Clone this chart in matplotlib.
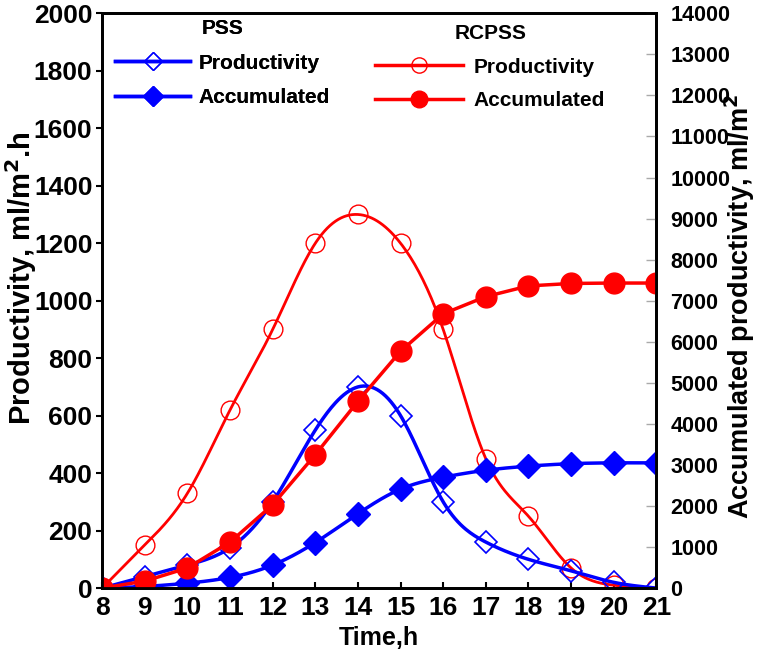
import numpy as np
import matplotlib
matplotlib.use("Agg")
from matplotlib import pyplot as plt
from matplotlib.lines import Line2D

plt.rcParams['font.family'] = ['Liberation Sans', 'DejaVu Sans']
plt.rcParams['font.weight'] = 'bold'

# data
hours = [8, 9, 10, 11, 12, 13, 14, 15, 16, 17, 18, 19, 20, 21]
pss_prod = [0, 40, 80, 140, 300, 550, 700, 600, 300, 160, 100, 60, 20, 0]
pss_acc = [0, 40, 120, 260, 560, 1110, 1810, 2410, 2700, 2870, 2970, 3030, 3050, 3050]
rc_prod = [0, 150, 330, 620, 900, 1200, 1300, 1200, 900, 450, 250, 70, 10, 0]
rc_acc = [0, 170, 490, 1120, 2030, 3250, 4550, 5770, 6680, 7100, 7360, 7420, 7430, 7430]


# natural cubic spline, only used to draw a smooth line through the points
def smooth(x, y, n=400):
    x = np.asarray(x, float)
    y = np.asarray(y, float)
    k = len(x)
    h = np.diff(x)
    A = np.zeros((k, k))
    b = np.zeros(k)
    A[0, 0] = 1
    A[-1, -1] = 1
    for i in range(1, k - 1):
        A[i, i - 1] = h[i - 1]
        A[i, i] = 2 * (h[i - 1] + h[i])
        A[i, i + 1] = h[i]
        b[i] = 6 * ((y[i + 1] - y[i]) / h[i] - (y[i] - y[i - 1]) / h[i - 1])
    M = np.linalg.solve(A, b)
    xs = np.linspace(x[0], x[-1], n)
    idx = np.clip(np.searchsorted(x, xs) - 1, 0, k - 2)
    x0, x1 = x[idx], x[idx + 1]
    hh = x1 - x0
    t1 = x1 - xs
    t0 = xs - x0
    ys = (M[idx] * t1 ** 3 + M[idx + 1] * t0 ** 3) / (6 * hh) \
        + (y[idx] / hh - M[idx] * hh / 6) * t1 \
        + (y[idx + 1] / hh - M[idx + 1] * hh / 6) * t0
    return xs, ys


fig = plt.figure(figsize=(7.57, 6.66), dpi=100)
ax = fig.add_axes([0.135, 0.117, 0.732, 0.863])
ax2 = ax.twinx()

blue = '#0000FF'
red = '#FF0000'

xs, ys = smooth(hours, rc_prod)
ax.plot(xs, ys, color=red, lw=2)
ax.plot(hours, rc_prod, 'o', ms=13.5, mfc='none', mec=red, mew=1)
xs, ys = smooth(hours, pss_prod)
ax.plot(xs, ys, color=blue, lw=2.5)
ax.plot(hours, pss_prod, 'D', ms=11, mfc='none', mec=blue, mew=1.2)

xs, ys = smooth(hours, pss_acc)
ax2.plot(xs, ys, color=blue, lw=2.5)
ax2.plot(hours, pss_acc, 'D', ms=12, color=blue)
ax2.plot(hours, rc_acc, '-o', ms=15, color=red, lw=2.5)

ax.set_xlim(8, 21)
ax.set_ylim(0, 2000)
ax2.set_ylim(0, 14000)
ax.set_xticks(hours)
ax.set_yticks(np.arange(0, 2001, 200))
ax2.set_yticks(np.arange(0, 14001, 1000))

ax.tick_params(axis='y', labelsize=19, width=1.5, length=4, pad=3)
ax.tick_params(axis='x', labelsize=19, direction='in', width=1.5, length=4, pad=6)
ax2.tick_params(axis='y', labelsize=15.5, direction='in', length=7, width=1, color='#aaaaaa', pad=10)
for a in (ax, ax2):
    for s in a.spines.values():
        s.set_linewidth(2)
    for lab in a.get_xticklabels() + a.get_yticklabels():
        lab.set_fontweight('bold')

ax.set_xlabel('Time,h', fontsize=18, fontweight='bold', labelpad=4)
ax.set_ylabel('Productivity, ml/m$^\\mathbf{2}$.h', fontsize=21, fontweight='bold')
ax.yaxis.set_label_coords(-0.114, 0.54)
ax2.set_ylabel('Accumulated productivity, ml/m$^\\mathbf{2}$', fontsize=19.5, fontweight='bold',
               rotation=90)
ax2.yaxis.set_label_coords(1.12, 0.49)

h1 = [Line2D([], [], color=blue, lw=2.5, marker='D', ms=9, mfc='none', mec=blue),
      Line2D([], [], color=blue, lw=2.5, marker='D', ms=10)]
leg1 = ax.legend(h1, ['Productivity', 'Accumulated'], title='PSS', loc='upper left',
                 bbox_to_anchor=(115 / 757, 1 - 19 / 666), bbox_transform=fig.transFigure,
                 frameon=False, fontsize=15, borderpad=0, borderaxespad=0,
                 title_fontproperties={'weight': 'bold', 'size': 15},
                 handlelength=3.6, handletextpad=0.4, labelspacing=0.75)
ax.add_artist(leg1)
h2 = [Line2D([], [], color=red, lw=2.5, marker='o', ms=11, mfc='none', mec=red, mew=1),
      Line2D([], [], color=red, lw=2.5, marker='o', ms=12)]
leg2 = ax2.legend(h2, ['Productivity', 'Accumulated'], title='RCPSS', loc='upper left',
                  bbox_to_anchor=(375 / 757, 1 - 24 / 666), bbox_transform=fig.transFigure,
                  frameon=False, fontsize=15, borderpad=0, borderaxespad=0,
                  title_fontproperties={'weight': 'bold', 'size': 15},
                  handlelength=4.2, handletextpad=0.55, labelspacing=0.7)

fig.savefig('out.png', dpi=100)
